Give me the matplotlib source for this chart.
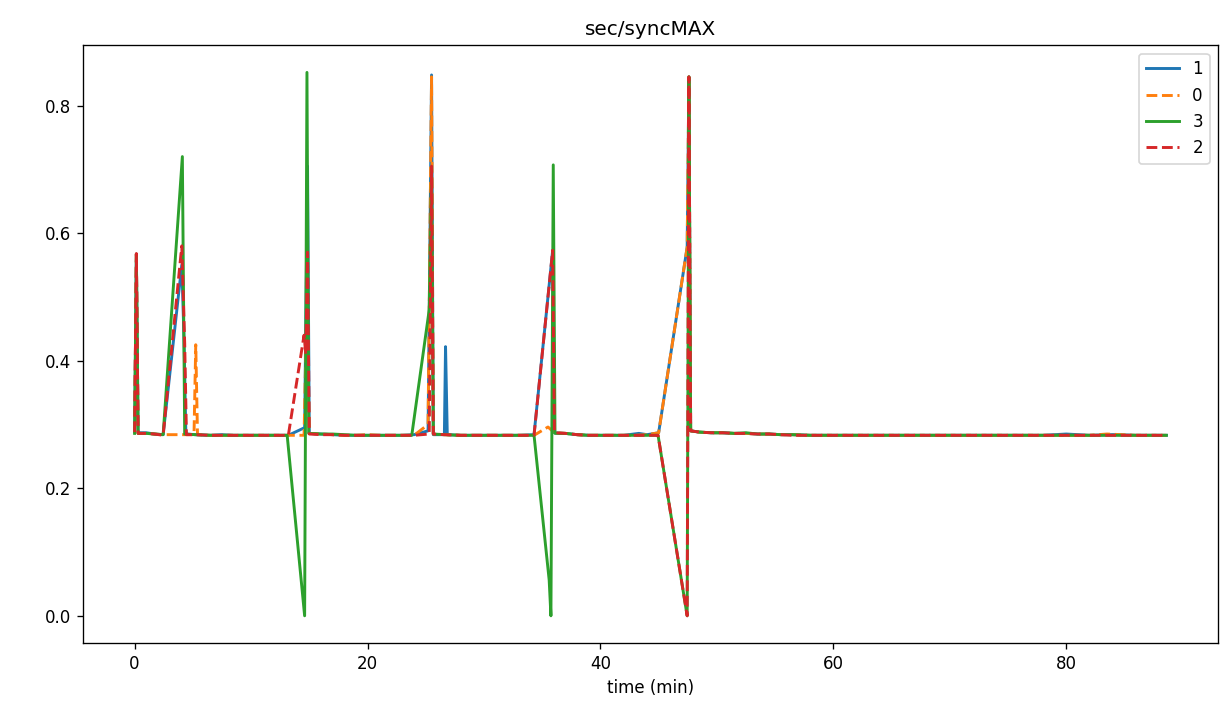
import matplotlib
matplotlib.use('Agg')
import matplotlib.pyplot as plt

# series "1" (blue, solid)
t_1 = [0, 0.15, 0.3, 1.0, 1.7, 2.45, 4.05, 4.25, 4.4, 5.2, 6.5, 7.5, 8.5, 9.5, 10.5,
       11.5, 12.5, 13.2, 14.6, 14.85, 15.0, 16.0, 17.0, 18.0, 19.0, 20.0, 21.0, 22.0,
       23.0, 24.0, 25.2, 25.5, 25.65, 26.6, 26.7, 26.85, 28.0, 29.0, 30.0, 31.0, 32.0,
       33.0, 34.3, 35.9, 36.05, 37.0, 38.0, 39.0, 40.0, 41.0, 42.0, 43.3, 44.0, 45.0,
       47.45, 47.6, 47.75, 48.5, 49.5, 50.5, 51.5, 52.5, 53.5, 54.5, 55.5, 56.5, 58.0,
       60.0, 62.0, 64.0, 66.0, 68.0, 70.0, 72.0, 74.0, 76.0, 78.0, 80.0, 82.0, 84.0,
       86.0, 88.6]
v_1 = [0.288, 0.567, 0.287, 0.287, 0.285, 0.284, 0.55, 0.43, 0.285, 0.284, 0.283,
       0.284, 0.283, 0.283, 0.283, 0.283, 0.283, 0.283, 0.295, 0.705, 0.286, 0.285,
       0.284, 0.283, 0.283, 0.283, 0.283, 0.283, 0.283, 0.284, 0.290, 0.848, 0.284,
       0.284, 0.422, 0.284, 0.283, 0.283, 0.283, 0.283, 0.283, 0.283, 0.284, 0.573,
       0.287, 0.286, 0.284, 0.283, 0.283, 0.283, 0.283, 0.286, 0.284, 0.287, 0.578,
       0.845, 0.290, 0.288, 0.287, 0.287, 0.286, 0.286, 0.285, 0.285, 0.284, 0.284,
       0.283, 0.283, 0.283, 0.283, 0.283, 0.283, 0.283, 0.283, 0.283, 0.283, 0.283,
       0.285, 0.283, 0.284, 0.283, 0.283]

# series "0" (orange, dashed)
t_0 = [0, 0.15, 0.3, 1.0, 1.7, 2.45, 4.4, 5.1, 5.25, 5.4, 6.5, 7.5, 8.5, 9.5, 10.5,
       11.5, 12.5, 13.2, 14.55, 14.8, 15.0, 16.0, 17.0, 18.0, 19.0, 20.0, 21.0, 22.0,
       23.0, 24.0, 25.2, 25.5, 25.65, 26.6, 28.0, 29.0, 30.0, 31.0, 32.0, 33.0, 34.3,
       35.5, 36.05, 37.0, 38.0, 39.0, 40.0, 41.0, 42.0, 43.0, 44.0, 45.0, 47.45,
       47.6, 47.75, 48.5, 49.5, 50.5, 51.5, 52.5, 53.5, 54.5, 55.5, 56.5, 58.0, 60.0,
       62.0, 64.0, 66.0, 68.0, 70.0, 72.0, 74.0, 76.0, 78.0, 80.0, 82.0, 83.5, 86.0,
       88.6]
v_0 = [0.287, 0.567, 0.286, 0.286, 0.285, 0.284, 0.284, 0.284, 0.425, 0.284, 0.283,
       0.283, 0.283, 0.283, 0.283, 0.283, 0.283, 0.283, 0.283, 0.50, 0.286, 0.285,
       0.284, 0.283, 0.283, 0.284, 0.283, 0.283, 0.283, 0.283, 0.300, 0.845, 0.285,
       0.284, 0.283, 0.283, 0.283, 0.283, 0.283, 0.283, 0.283, 0.296, 0.287,
       0.286, 0.284, 0.283, 0.283, 0.283, 0.283, 0.283, 0.284, 0.287, 0.578, 0.845,
       0.290, 0.288, 0.287, 0.287, 0.286, 0.286, 0.285, 0.285, 0.284, 0.284, 0.283,
       0.283, 0.283, 0.283, 0.283, 0.283, 0.283, 0.283, 0.283, 0.283, 0.283, 0.283,
       0.283, 0.285, 0.283, 0.283]

# series "3" (green, solid)
t_3 = [0, 0.15, 0.3, 1.0, 1.7, 2.45, 4.1, 4.3, 5.2, 6.5, 7.5, 8.5, 9.5, 10.5, 11.5,
       12.5, 13.1, 14.6, 14.8, 14.95, 16.0, 17.0, 18.0, 19.0, 20.0, 21.0, 22.0, 23.0,
       23.8, 25.3, 25.5, 25.65, 26.6, 28.0, 29.0, 30.0, 31.0, 32.0, 33.0, 34.3, 35.6,
       35.75, 35.95, 36.1, 37.0, 38.0, 39.0, 40.0, 41.0, 42.0, 43.0, 44.0, 44.95,
       47.45, 47.6, 47.75, 48.5, 49.5, 50.5, 51.5, 52.5, 53.5, 54.5, 55.5, 56.5, 58.0,
       60.0, 62.0, 64.0, 66.0, 68.0, 70.0, 72.0, 74.0, 76.0, 78.0, 80.0, 82.0, 84.0,
       86.0, 88.6]
v_3 = [0.286, 0.567, 0.286, 0.286, 0.285, 0.284, 0.720, 0.285, 0.284, 0.283, 0.283,
       0.283, 0.283, 0.283, 0.283, 0.283, 0.283, 0.0, 0.852, 0.286, 0.285, 0.285,
       0.284, 0.283, 0.283, 0.283, 0.283, 0.283, 0.283, 0.480, 0.700, 0.285, 0.284,
       0.283, 0.283, 0.283, 0.283, 0.283, 0.283, 0.283, 0.056, 0.0, 0.707, 0.286,
       0.286, 0.284, 0.283, 0.283, 0.283, 0.283, 0.283, 0.283, 0.283, 0.0, 0.845,
       0.290, 0.288, 0.287, 0.287, 0.286, 0.287, 0.285, 0.285, 0.284, 0.284, 0.283,
       0.283, 0.283, 0.283, 0.283, 0.283, 0.283, 0.283, 0.283, 0.283, 0.283, 0.283,
       0.283, 0.283, 0.283, 0.283]

# series "2" (red, dashed)
t_2 = [0, 0.15, 0.3, 1.0, 1.7, 2.45, 4.05, 4.3, 4.45, 5.2, 6.5, 7.5, 8.5, 9.5, 10.5,
       11.5, 12.5, 13.2, 14.55, 14.7, 14.85, 15.0, 16.0, 17.0, 18.0, 19.0, 20.0, 21.0,
       22.0, 23.0, 24.0, 25.3, 25.5, 25.65, 26.6, 28.0, 29.0, 30.0, 31.0, 32.0, 33.0,
       34.3, 35.9, 36.05, 37.0, 38.0, 39.0, 40.0, 41.0, 42.0, 43.0, 44.0, 44.95,
       47.45, 47.6, 47.75, 48.5, 49.5, 50.5, 51.5, 52.5, 53.5, 54.5, 55.5, 56.5, 58.0,
       60.0, 62.0, 64.0, 66.0, 68.0, 70.0, 72.0, 74.0, 76.0, 78.0, 80.0, 82.0, 84.0,
       86.0, 88.6]
v_2 = [0.288, 0.568, 0.286, 0.286, 0.285, 0.283, 0.580, 0.427, 0.284, 0.284, 0.283,
       0.283, 0.283, 0.283, 0.283, 0.283, 0.283, 0.283, 0.440, 0.410, 0.570, 0.285,
       0.284, 0.284, 0.283, 0.283, 0.283, 0.283, 0.283, 0.283, 0.283, 0.285, 0.705,
       0.285, 0.284, 0.283, 0.283, 0.283, 0.283, 0.283, 0.283, 0.283, 0.573, 0.287,
       0.286, 0.284, 0.283, 0.283, 0.283, 0.283, 0.283, 0.283, 0.283, 0.0, 0.845,
       0.290, 0.288, 0.287, 0.287, 0.286, 0.286, 0.285, 0.285, 0.284, 0.283, 0.283,
       0.283, 0.283, 0.283, 0.283, 0.283, 0.283, 0.283, 0.283, 0.283, 0.283, 0.283,
       0.283, 0.283, 0.283, 0.283]

series = [('1', t_1, v_1, '-', 'tab:blue'),
          ('0', t_0, v_0, '--', 'tab:orange'),
          ('3', t_3, v_3, '-', 'tab:green'),
          ('2', t_2, v_2, '--', 'tab:red')]

fig = plt.figure(figsize=(1221 / 120, 718 / 120), dpi=120)
ax = fig.add_subplot(111)
fig.subplots_adjust(left=0.068, right=0.9975, top=0.937, bottom=0.1045)

for label, t, v, ls, color in series:
    ax.plot(t, v, ls, color=color, lw=1.75, label=label)

ax.set_title('sec/syncMAX')
ax.set_xlabel('time (min)')
ax.legend(loc='upper right')

fig.savefig('out.png', dpi=120)
